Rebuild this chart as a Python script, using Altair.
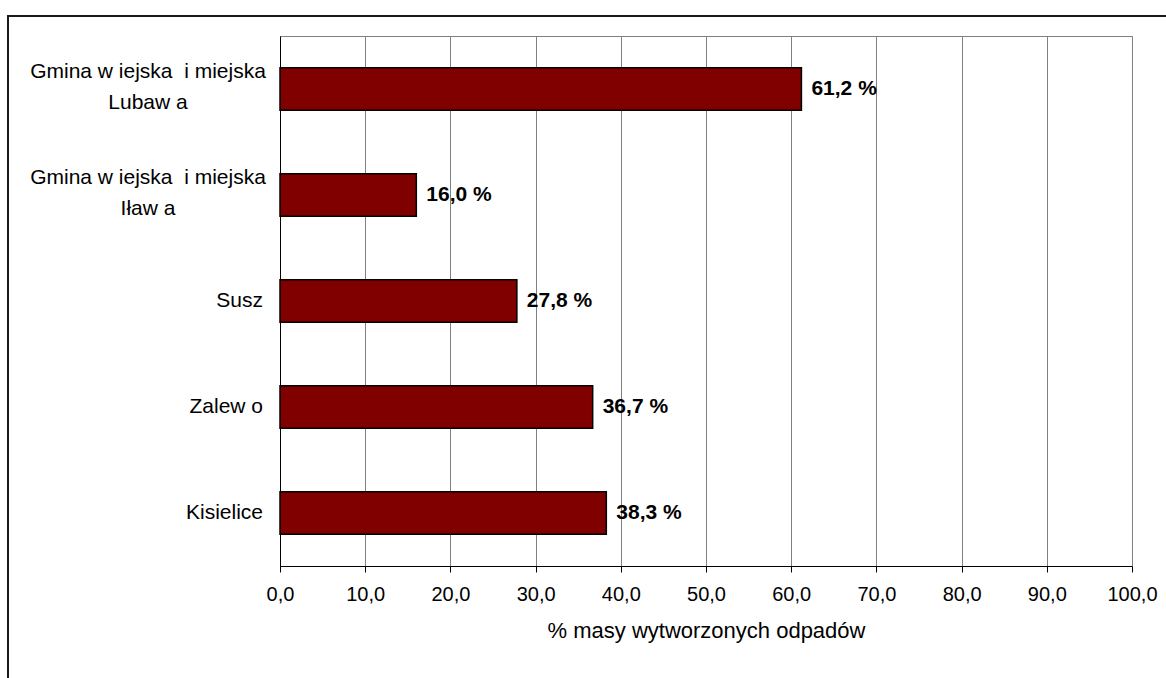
import altair as alt
import pandas as pd

# ---- data ----
categories = [
    "Gmina w iejska \u00a0i miejska|Lubaw a",
    "Gmina w iejska \u00a0i miejska|Iław a",
    "Susz",
    "Zalew o",
    "Kisielice",
]
values = [61.2, 16.0, 27.8, 36.7, 38.3]
x_ticks = [0, 10, 20, 30, 40, 50, 60, 70, 80, 90, 100]
x_title = "% masy wytworzonych odpadów"

df = pd.DataFrame({"category": categories, "value": values})

FONT = "Liberation Sans"

y_enc = alt.Y(
    "category:N",
    sort=categories,
    scale=alt.Scale(paddingInner=0.6, paddingOuter=0.3),
    axis=alt.Axis(labels=False, ticks=False, grid=False, domain=True,
                  domainColor="black", domainWidth=1, title=None),
)

x_enc = alt.X(
    "value:Q",
    scale=alt.Scale(domain=[0, 100], nice=False),
    axis=alt.Axis(
        values=x_ticks,
        labelExpr="replace(format(datum.value, '.1f'), '.', ',')",
        labelFlush=False, labelOverlap=False,
        grid=True, gridColor="#808080", gridWidth=1,
        domainColor="black", domainWidth=1,
        tickColor="black", tickSize=6, tickWidth=1,
        labelFont=FONT, labelFontSize=20, labelColor="black", labelPadding=12,
        title=x_title, titleFont=FONT, titleFontSize=22,
        titleFontWeight="normal", titleColor="black", titlePadding=16,
    ),
)

base = alt.Chart(df)

bars = base.mark_bar(color="#800000", stroke="black", strokeWidth=1.5).encode(
    x=x_enc, y=y_enc
)

value_labels = base.transform_calculate(
    label="replace(format(datum.value, '.1f'), '.', ',') + ' %'"
).mark_text(
    align="left", baseline="middle", dx=10, font=FONT, fontSize=21,
    fontWeight="bold", color="black"
).encode(x="value:Q", y=alt.Y("category:N", sort=categories), text="label:N")

multi_labels = base.transform_filter("indexof(datum.category, '|') >= 0").mark_text(
    align="center", baseline="middle", lineBreak="|", lineHeight=31, dy=-17,
    font=FONT, fontSize=21, color="black"
).encode(x=alt.value(-132), y=alt.Y("category:N", sort=categories), text="category:N")

single_labels = base.transform_filter("indexof(datum.category, '|') < 0").mark_text(
    align="right", baseline="middle", font=FONT, fontSize=21, color="black"
).encode(x=alt.value(-17), y=alt.Y("category:N", sort=categories), text="category:N")

border = alt.Chart(alt.Data(values=[{}])).mark_rect(
    fillOpacity=0, stroke="#1a1a1a", strokeWidth=2
).encode(x=alt.value(-272), y=alt.value(-20), x2=alt.value(900), y2=alt.value(700))

chart = alt.layer(bars, value_labels, multi_labels, single_labels, border).properties(
    width=852, height=530,
    autosize=alt.AutoSizeParams(type="none"),
    padding={"left": 280, "top": 36, "right": 34, "bottom": 112},
    background="white",
).configure_view(stroke="#808080", strokeWidth=1)

chart.save("out.html", embed_options={"renderer": "svg", "actions": False})
